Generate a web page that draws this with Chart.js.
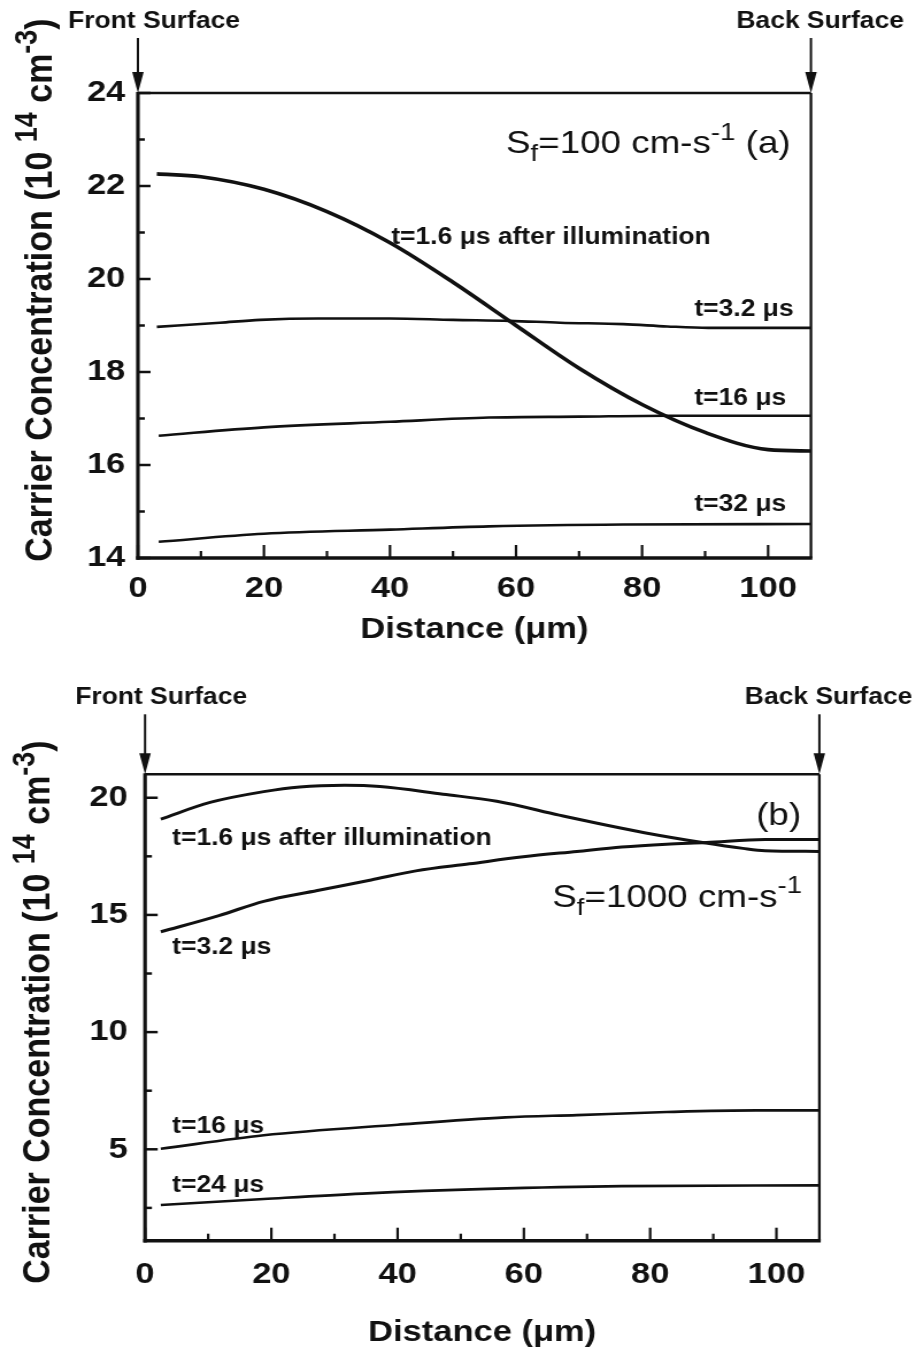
<!DOCTYPE html>
<html>
<head>
<title>Carrier concentration vs distance</title>
<script src="https://cdn.jsdelivr.net/npm/chart.js@4/dist/chart.umd.min.js"></script>
<style>
body { margin: 0; background: #fff; overflow: hidden; }
canvas { position: absolute; left: 0; }
</style>
</head>
<body>

<!-- the scan is wider than Helvetica: draw at 797px and stretch to 916px -->
<canvas id="chartA" width="797" height="660" style="top:0;width:916px;height:660px"></canvas>
<canvas id="chartB" width="797" height="689" style="top:660px;width:916px;height:689px"></canvas>

<script>
const INK = '#111';
const FONT = '"Liberation Sans", Arial, Helvetica, sans-serif';
const X_MAX = 106.8;

// axis ticks
const xTicks = [0, 20, 40, 60, 80, 100];
const xMinor = [10, 30, 50, 70, 90];
const yTicksA = [14, 16, 18, 20, 22, 24];
const yMinorA = [15, 17, 19, 21, 23];
const yTicksB = [5, 10, 15, 20];
const yMinorB = [2.5, 7.5, 12.5, 17.5];

// (a) Sf = 100 cm/s
const xA16 = [3, 10, 20, 30, 40, 50, 60, 70, 80, 90, 100, 106.8];
const yA16 = [22.26, 22.2, 21.93, 21.45, 20.78, 19.93, 19.0, 18.08, 17.3, 16.7, 16.33, 16.3];
const xA32 = [3, 13, 19.4, 28.6, 40, 50, 59, 67, 77, 84, 90.5, 106.8];
const yA32 = [18.97, 19.06, 19.12, 19.15, 19.15, 19.12, 19.10, 19.06, 19.03, 18.98, 18.95, 18.95];
const xA160 = [3.3, 20, 40, 55.7, 70, 84, 106.8];
const yA160 = [16.63, 16.81, 16.93, 17.02, 17.04, 17.06, 17.06];
const xA320 = [3.3, 20, 40, 55.7, 77, 106.8];
const yA320 = [14.35, 14.52, 14.61, 14.68, 14.72, 14.73];

// (b) Sf = 1000 cm/s
const xB16 = [2.5, 10.3, 18.8, 24.5, 31.6, 37.2, 47.2, 55.7, 65.6, 72, 79.1, 88.3, 94.7, 98.2, 106.8];
const yB16 = [19.09, 19.8, 20.26, 20.46, 20.53, 20.48, 20.15, 19.85, 19.26, 18.89, 18.51, 18.09, 17.84, 17.74, 17.71];
const xB32 = [2.5, 11.7, 18.8, 27.3, 35.8, 42.9, 51.4, 59.9, 68.4, 75.5, 82.6, 88.9, 98.2, 106.8];
const yB32 = [14.28, 14.97, 15.58, 16.04, 16.49, 16.88, 17.18, 17.48, 17.71, 17.9, 18.02, 18.09, 18.22, 18.22];
const xB160 = [2.5, 18.8, 40, 57.1, 68.4, 82.6, 96.8, 106.8];
const yB160 = [5.02, 5.6, 6.05, 6.36, 6.46, 6.59, 6.66, 6.66];
const xB240 = [2.5, 18.8, 34.4, 54.3, 75.5, 106.8];
const yB240 = [2.62, 2.88, 3.11, 3.31, 3.43, 3.46];

const yTitle = [
  { t: 'Carrier Concentration (10 ' }, { t: '14', s: 0.8, dy: -0.4 },
  { t: ' cm' }, { t: '-3', s: 0.8, dy: -0.4 }, { t: ')' }
];

function line(ctx, x1, y1, x2, y2, w) {
  ctx.lineWidth = w;
  ctx.beginPath();
  ctx.moveTo(x1, y1);
  ctx.lineTo(x2, y2);
  ctx.stroke();
}

// text with sub/superscript pieces
function drawRich(ctx, parts, x, y, size, weight, align) {
  const fontFor = p => `${weight} ${Math.round(size * (p.s || 1))}px ${FONT}`;
  let w = 0;
  for (const p of parts) { ctx.font = fontFor(p); w += ctx.measureText(p.t).width; }
  let cx = align === 'center' ? x - w / 2 : x;
  ctx.textAlign = 'left';
  ctx.textBaseline = 'alphabetic';
  for (const p of parts) {
    ctx.font = fontFor(p);
    ctx.fillText(p.t, cx, y + (p.dy || 0) * size);
    cx += ctx.measureText(p.t).width;
  }
}

function deco(p) {
  return {
    id: 'deco',
    afterDraw(chart) {
      const { ctx, chartArea: a, scales: { x, y } } = chart;
      ctx.save();
      ctx.strokeStyle = INK;
      ctx.fillStyle = INK;

      // frame
      line(ctx, a.left, a.top, a.right, a.top, 2.5);
      line(ctx, a.right, a.top, a.right, a.bottom, 2.3);
      line(ctx, a.left, a.top - 1, a.left, a.bottom + 1.7, 3.2);
      line(ctx, a.left - 1.6, a.bottom, a.right + 1.2, a.bottom, 3.5);

      // inward tick marks
      xTicks.forEach(v => { const px = x.getPixelForValue(v); line(ctx, px, a.bottom, px, a.bottom - 13, 2.2); });
      xMinor.forEach(v => { const px = x.getPixelForValue(v); line(ctx, px, a.bottom, px, a.bottom - 7, 2.2); });
      p.yTicks.forEach(v => { const py = y.getPixelForValue(v); line(ctx, a.left, py, a.left + 11, py, 2.5); });
      p.yMinor.forEach(v => { const py = y.getPixelForValue(v); line(ctx, a.left, py, a.left + 6, py, 2.5); });

      // surface arrows
      [[a.left, 'Front Surface', 14], [a.right, 'Back Surface', 8]].forEach(([ax, text, dx]) => {
        line(ctx, ax, a.top - p.arrowLen, ax, a.top - 15, 2);
        ctx.beginPath();
        ctx.moveTo(ax - 5, a.top - 21);
        ctx.lineTo(ax + 5, a.top - 21);
        ctx.lineTo(ax, a.top);
        ctx.closePath();
        ctx.fill();
        drawRich(ctx, [{ t: text }], ax + dx, a.top - p.labelRise, 23, 'bold', 'center');
      });

      // curve labels and parameter text
      p.notes.forEach(n => {
        const size = n.size || 23;
        const py = y.getPixelForValue(n.y) + (n.base ? 0 : 0.36 * size);
        drawRich(ctx, n.parts, x.getPixelForValue(n.x), py, size, n.weight || 'bold', 'left');
      });

      // y axis title
      ctx.translate(p.titleX, p.titleY);
      ctx.rotate(-Math.PI / 2);
      drawRich(ctx, yTitle, 0, 0.36 * 34, 34, 'bold', 'center');
      ctx.restore();
    }
  };
}

function makePanel(id, p) {
  return new Chart(document.getElementById(id), {
    type: 'line',
    data: {
      datasets: p.series.map(s => ({
        data: s.xs.map((v, i) => ({ x: v, y: s.ys[i] })),
        borderColor: INK,
        borderWidth: s.w,
        pointRadius: 0,
        cubicInterpolationMode: 'monotone',
        fill: false
      }))
    },
    options: {
      responsive: false,
      animation: false,
      events: [],
      layout: { padding: { left: 0, top: p.top, right: p.right, bottom: p.bottom } },
      plugins: { legend: { display: false }, tooltip: { enabled: false } },
      scales: {
        x: {
          type: 'linear', min: 0, max: X_MAX,
          afterBuildTicks: s => { s.ticks = xTicks.map(v => ({ value: v })); },
          afterFit: s => { s.height = p.xAxisH; s.paddingLeft = 0; s.paddingRight = 0; },
          grid: { display: false, drawTicks: false },
          border: { display: false },
          ticks: { color: INK, font: { family: FONT, size: 30, weight: 'bold' }, padding: p.xPad, maxRotation: 0, autoSkip: false },
          title: { display: true, text: 'Distance (μm)', color: INK, padding: 0,
                   font: { family: FONT, size: 30, weight: 'bold', lineHeight: 1 } }
        },
        y: {
          type: 'linear', min: p.yMin, max: p.yMax,
          afterBuildTicks: s => { s.ticks = p.yTicks.map(v => ({ value: v })); },
          afterFit: s => { s.width = p.yAxisW; s.paddingTop = 0; s.paddingBottom = 0; },
          grid: { display: false, drawTicks: false },
          border: { display: false },
          ticks: { color: INK, font: { family: FONT, size: 30, weight: 'bold' }, padding: p.yPad, autoSkip: false }
        }
      }
    },
    plugins: [deco(p)]
  });
}

makePanel('chartA', {
  series: [
    { xs: xA16, ys: yA16, w: 3.6 },
    { xs: xA32, ys: yA32, w: 2.6 },
    { xs: xA160, ys: yA160, w: 2.6 },
    { xs: xA320, ys: yA320, w: 2.6 }
  ],
  yMin: 14, yMax: 24, yTicks: yTicksA, yMinor: yMinorA,
  top: 93, right: 91.4, bottom: 15, xAxisH: 87, yAxisW: 120, xPad: 13, yPad: 11,
  arrowLen: 55, labelRise: 65, titleX: 33, titleY: 290,
  notes: [
    { parts: [{ t: 't=1.6 μs after illumination' }], x: 40.2, y: 20.94 },
    { parts: [{ t: 't=3.2 μs' }], x: 88.3, y: 19.38 },
    { parts: [{ t: 't=16 μs' }], x: 88.3, y: 17.47 },
    { parts: [{ t: 't=32 μs' }], x: 88.3, y: 15.18 },
    { parts: [{ t: 'S' }, { t: 'f', s: 0.75, dy: 0.25 }, { t: '=100 cm-s' }, { t: '-1', s: 0.75, dy: -0.42 }, { t: ' (a)' }],
      x: 58.4, y: 22.7, size: 32, weight: 'normal', base: true }
  ]
});

makePanel('chartB', {
  series: [
    { xs: xB16, ys: yB16, w: 3 },
    { xs: xB32, ys: yB32, w: 3 },
    { xs: xB160, ys: yB160, w: 2.6 },
    { xs: xB240, ys: yB240, w: 2.6 }
  ],
  yMin: 1.1, yMax: 21, yTicks: yTicksB, yMinor: yMinorB,
  top: 114.3, right: 84.1, bottom: 1.3, xAxisH: 107, yAxisW: 126.2, xPad: 16, yPad: 15,
  arrowLen: 60, labelRise: 70, titleX: 31, titleY: 352,
  notes: [
    { parts: [{ t: 't=1.6 μs after illumination' }], x: 4.3, y: 18.32 },
    { parts: [{ t: 't=3.2 μs' }], x: 4.3, y: 13.67 },
    { parts: [{ t: 't=16 μs' }], x: 4.3, y: 6.05 },
    { parts: [{ t: 't=24 μs' }], x: 4.3, y: 3.54 },
    { parts: [{ t: '(b)' }], x: 96.8, y: 19.31, size: 32, weight: 'normal' },
    { parts: [{ t: 'S' }, { t: 'f', s: 0.75, dy: 0.25 }, { t: '=1000 cm-s' }, { t: '-1', s: 0.75, dy: -0.42 }],
      x: 64.5, y: 15.35, size: 32, weight: 'normal', base: true }
  ]
});
</script>

</body>
</html>
